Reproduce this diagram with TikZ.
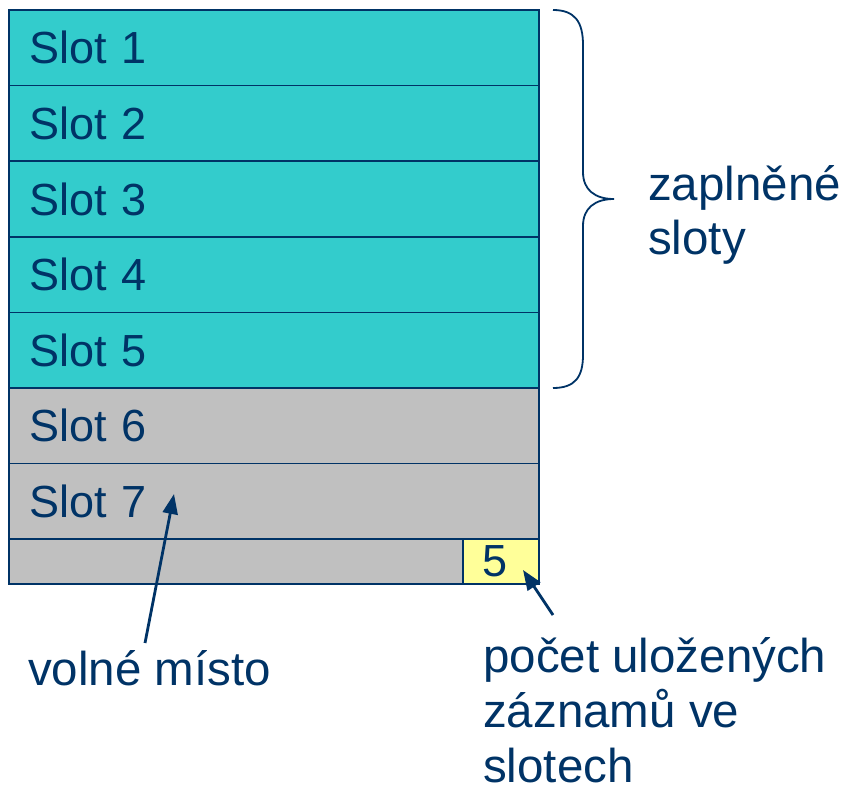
\documentclass[tikz,border=0pt]{standalone}
\usepackage{fontspec}
\setmainfont{Liberation Sans}
\usetikzlibrary{arrows.meta}
\definecolor{navy}{HTML}{003366}
\definecolor{usedfill}{HTML}{33CCCC}
\definecolor{freefill}{HTML}{C0C0C0}
\definecolor{countfill}{HTML}{FFFF99}
\begin{document}
\begin{tikzpicture}[x=1pt,y=-1pt,
  every node/.style={text=navy, font=\fontsize{45}{54}\selectfont},
  slot/.style={draw=navy, line width=1.6pt, minimum width=530pt, minimum height=75.6pt,
    text width=490pt, inner xsep=20pt, inner ysep=0pt, align=left},
  strip/.style={draw=navy, line width=1.6pt, inner sep=0pt},
  label/.style={anchor=base west, inner sep=0pt, font=\fontsize{47.5}{57}\selectfont},
  arr/.style={draw=navy, line width=2.8pt, -{Triangle[length=20pt,width=15pt]}},
  brace/.style={draw=navy, line width=1.8pt}]
\useasboundingbox (0,0) rectangle (846,790);

% page of slots
\node[slot, fill=usedfill] (s1) at (274,47.8)  {Slot 1};
\node[slot, fill=usedfill] (s2) at (274,123.4) {Slot 2};
\node[slot, fill=usedfill] (s3) at (274,199.0) {Slot 3};
\node[slot, fill=usedfill] (s4) at (274,274.6) {Slot 4};
\node[slot, fill=usedfill] (s5) at (274,350.2) {Slot 5};
\node[slot, fill=freefill] (s6) at (274,425.8) {Slot 6};
\node[slot, fill=freefill] (s7) at (274,501.4) {Slot 7};
% trailer with record count
\node[strip, fill=freefill, minimum width=530pt, minimum height=44.8pt] (trail) at (274,561.6) {};
\node[strip, fill=countfill, minimum width=76pt, minimum height=44.8pt] (cnt) at (501,561.6) {\hspace*{-12pt}5};

% brace over occupied slots
\draw[brace] (553,10) .. controls (575,10) and (583,22) .. (583,45) -- (583,172)
  .. controls (583,190) and (595,199) .. (614,199)
  .. controls (595,199) and (583,208) .. (583,226) -- (583,355)
  .. controls (583,377) and (575,388) .. (553,388);

% labels
\node[label] (full1) at (648,200) {zaplněné};
\node[label] (full2) at (648,254) {sloty};
\node[label] (free) at (28,685) {volné místo};
\node[label] (num1) at (483,672) {počet uložených};
\node[label] (num2) at (483,727) {záznamů ve};
\node[label] (num3) at (483,782) {slotech};

% pointers
\coordinate (freetail) at (145,643);
\coordinate (freetip) at (174,494);
\coordinate (numtail) at (553,615);
\coordinate (numtip) at (523,570);
\draw[arr] (freetail) -- (freetip);
\draw[arr] (numtail) -- (numtip);
\end{tikzpicture}
\end{document}
